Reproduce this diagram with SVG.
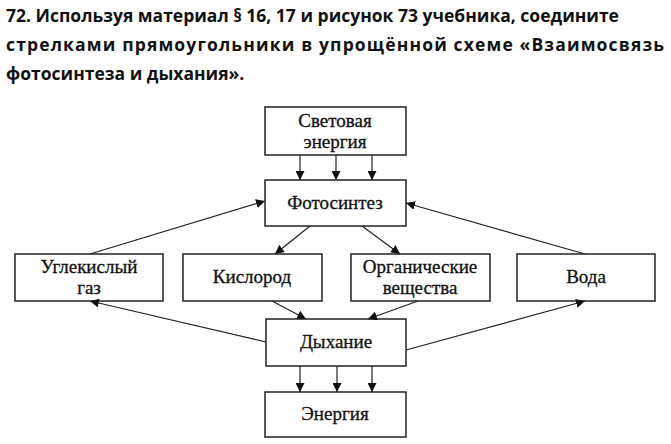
<svg xmlns="http://www.w3.org/2000/svg" width="671" height="444" viewBox="0 0 671 444">
<style>
.t{font-family:"Open Sans","DejaVu Sans",sans-serif;font-weight:bold;font-size:17.5px;fill:#111}
.b{fill:#fff;stroke:#222;stroke-width:1.5}
.l{font-family:"Liberation Serif","DejaVu Serif",serif;font-size:19px;fill:#111;text-anchor:middle;stroke:#111;stroke-width:0.3}
.c line{stroke:#222;stroke-width:1.2;marker-end:url(#a)}
</style>
<defs><marker id="a" viewBox="0 0 10 10" refX="10" refY="5" markerWidth="9" markerHeight="9" markerUnits="userSpaceOnUse" orient="auto"><path d="M0,0L10,5L0,10z" fill="#111"/></marker></defs>
<rect width="671" height="444" fill="#fff"/>
<text class="t" x="6" y="22">72. Используя материал § 16, 17 и рисунок 73 учебника, соедините</text>
<text class="t" x="6" y="51" textLength="658" lengthAdjust="spacing">стрелками прямоугольники в упрощённой схеме «Взаимосвязь</text>
<text class="t" x="6" y="80">фотосинтеза и дыхания».</text>
<g id="n1"><rect class="b" x="265" y="107" width="141" height="48"/><text class="l" x="335" y="127">Световая</text><text class="l" x="335" y="148">энергия</text></g>
<g id="n2"><rect class="b" x="265" y="180" width="141" height="46"/><text class="l" x="335" y="209">Фотосинтез</text></g>
<g id="n3"><rect class="b" x="15" y="254" width="148" height="47"/><text class="l" x="89" y="273">Углекислый</text><text class="l" x="89" y="294">газ</text></g>
<g id="n4"><rect class="b" x="183" y="254" width="139" height="47"/><text class="l" x="252" y="283">Кислород</text></g>
<g id="n5"><rect class="b" x="351" y="254" width="139" height="47"/><text class="l" x="420" y="273">Органические</text><text class="l" x="420" y="294">вещества</text></g>
<g id="n6"><rect class="b" x="517" y="254" width="138" height="47"/><text class="l" x="586" y="283">Вода</text></g>
<g id="n7"><rect class="b" x="266" y="319" width="140" height="47"/><text class="l" x="336" y="348">Дыхание</text></g>
<g id="n8"><rect class="b" x="265" y="392" width="141" height="45"/><text class="l" x="335" y="420">Энергия</text></g>
<g class="c">
<line x1="300" y1="155" x2="300" y2="180"/><line x1="336" y1="155" x2="336" y2="180"/><line x1="372" y1="155" x2="372" y2="180"/>
<line x1="90" y1="254" x2="265" y2="201"/>
<line x1="585" y1="254" x2="406" y2="203"/>
<line x1="310" y1="226" x2="275" y2="254"/>
<line x1="362" y1="226" x2="400" y2="254"/>
<line x1="272" y1="301" x2="306" y2="319"/>
<line x1="418" y1="301" x2="368" y2="319"/>
<line x1="266" y1="342" x2="90" y2="301"/>
<line x1="406" y1="350" x2="585" y2="301"/>
<line x1="300" y1="366" x2="300" y2="392"/><line x1="337" y1="366" x2="337" y2="392"/><line x1="372" y1="366" x2="372" y2="392"/>
</g>
</svg>
